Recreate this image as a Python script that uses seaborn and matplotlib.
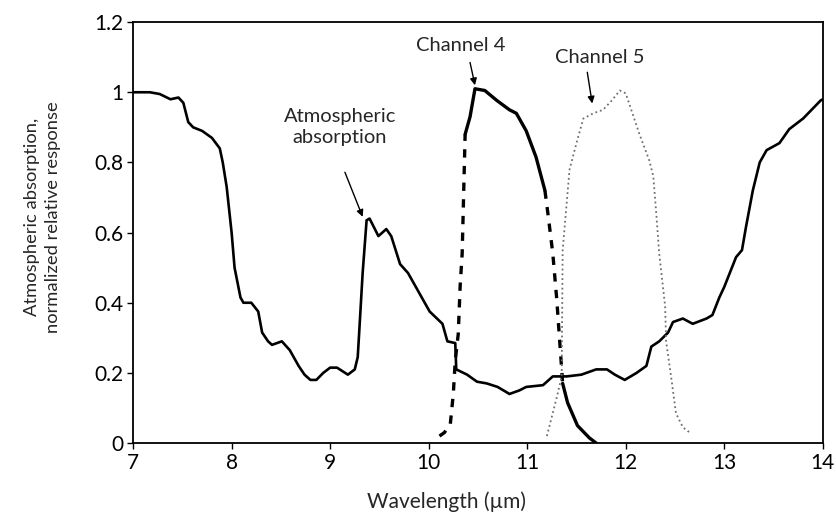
import pandas as pd
import matplotlib.pyplot as plt
import seaborn as sns

# atmospheric absorption (solid)
atm_x = [7.0, 7.17, 7.27, 7.38, 7.46, 7.51, 7.56, 7.61, 7.70, 7.80, 7.88, 7.91,
         7.95, 8.0, 8.03, 8.09, 8.12, 8.2, 8.27, 8.31, 8.37, 8.41, 8.51, 8.59,
         8.68, 8.74, 8.80, 8.86, 8.93, 9.0, 9.07, 9.18, 9.25, 9.28, 9.30, 9.33,
         9.37, 9.40, 9.49, 9.57, 9.62, 9.71, 9.79, 9.91, 10.01, 10.14, 10.19,
         10.27, 10.28, 10.39, 10.49, 10.59, 10.70, 10.82, 10.92, 10.99, 11.16,
         11.26, 11.40, 11.55, 11.60, 11.70, 11.81, 11.89, 11.99, 12.11, 12.21,
         12.26, 12.34, 12.43, 12.48, 12.58, 12.68, 12.82, 12.88, 12.95, 13.0,
         13.12, 13.18, 13.22, 13.29, 13.36, 13.43, 13.56, 13.66, 13.80, 13.98, 14.0]
atm_y = [1.0, 1.0, 0.995, 0.98, 0.985, 0.97, 0.915, 0.90, 0.89, 0.87, 0.84, 0.80,
         0.73, 0.60, 0.50, 0.415, 0.40, 0.40, 0.375, 0.315, 0.29, 0.28, 0.29, 0.265,
         0.22, 0.195, 0.18, 0.18, 0.20, 0.215, 0.215, 0.195, 0.21, 0.245, 0.34, 0.485,
         0.635, 0.64, 0.59, 0.61, 0.59, 0.51, 0.485, 0.425, 0.375, 0.34, 0.29,
         0.285, 0.21, 0.195, 0.175, 0.17, 0.16, 0.14, 0.15, 0.16, 0.165,
         0.19, 0.19, 0.195, 0.20, 0.21, 0.21, 0.195, 0.18, 0.20, 0.22,
         0.275, 0.29, 0.315, 0.345, 0.355, 0.34, 0.355, 0.365, 0.415, 0.445,
         0.53, 0.55, 0.615, 0.72, 0.80, 0.835, 0.855, 0.895, 0.925, 0.977, 0.98]

# channel 4 response
ch4_x = [10.11, 10.16, 10.22, 10.25, 10.27, 10.30, 10.32, 10.34, 10.37, 10.42,
         10.47, 10.57, 10.69, 10.82, 10.89, 10.99, 11.09, 11.18, 11.21, 11.26,
         11.30, 11.36, 11.41, 11.51, 11.63, 11.70]
ch4_y = [0.02, 0.03, 0.055, 0.14, 0.235, 0.31, 0.45, 0.54, 0.88, 0.93,
         1.01, 1.005, 0.977, 0.95, 0.94, 0.89, 0.815, 0.72, 0.655, 0.54,
         0.41, 0.17, 0.115, 0.05, 0.015, 0.0]

# channel 5 response
ch5_x = [11.20, 11.30, 11.35, 11.36, 11.43, 11.50, 11.57, 11.67, 11.77, 11.86,
         11.94, 12.0, 12.14, 12.24, 12.28, 12.31, 12.34, 12.40, 12.41, 12.47,
         12.51, 12.58, 12.65]
ch5_y = [0.02, 0.13, 0.19, 0.55, 0.78, 0.855, 0.925, 0.94, 0.95, 0.977,
         1.005, 0.997, 0.88, 0.805, 0.76, 0.655, 0.54, 0.39, 0.29, 0.17,
         0.085, 0.045, 0.03]

x_ticks = [7, 8, 9, 10, 11, 12, 13, 14]
y_ticks = [0, 0.2, 0.4, 0.6, 0.8, 1.0, 1.2]
y_tick_labels = ["0", "0.2", "0.4", "0.6", "0.8", "1", "1.2"]

sns.set_style("ticks")
plt.rcParams["font.family"] = ["Lato", "DejaVu Sans"]

atm = pd.DataFrame({"x": atm_x, "y": atm_y})
ch4 = pd.DataFrame({"x": ch4_x, "y": ch4_y})
ch5 = pd.DataFrame({"x": ch5_x, "y": ch5_y})

fig = plt.figure(figsize=(8.37, 5.14), dpi=100)
ax = fig.add_axes([0.159, 0.138, 0.824, 0.819])

sns.lineplot(data=atm, x="x", y="y", sort=False, estimator=None,
             color="black", linewidth=1.9, ax=ax)
# channel 4: dashed on steep flanks, solid elsewhere
dash = (0, (2.5, 2.5))
sns.lineplot(data=ch4.iloc[0:9], x="x", y="y", sort=False, estimator=None,
             color="black", linewidth=2.4, linestyle=dash, ax=ax)
sns.lineplot(data=ch4.iloc[8:18], x="x", y="y", sort=False, estimator=None,
             color="black", linewidth=2.4, ax=ax)
sns.lineplot(data=ch4.iloc[17:22], x="x", y="y", sort=False, estimator=None,
             color="black", linewidth=2.4, linestyle=dash, ax=ax)
sns.lineplot(data=ch4.iloc[21:], x="x", y="y", sort=False, estimator=None,
             color="black", linewidth=2.4, ax=ax)
sns.lineplot(data=ch5, x="x", y="y", sort=False, estimator=None,
             color="#6f6f6f", linewidth=1.3, linestyle=":", ax=ax)

ax.set_xlim(7, 14)
ax.set_ylim(0, 1.2)
ax.set_xticks(x_ticks)
ax.set_yticks(y_ticks)
ax.set_yticklabels(y_tick_labels)
ax.tick_params(labelsize=15, length=4, width=1, direction="out", colors="black",
               pad=3)
for s in ax.spines.values():
    s.set_linewidth(1.3)
    s.set_color("black")

ax.set_xlabel("Wavelength (µm)", fontsize=15)
ax.xaxis.set_label_coords(0.455, -0.115)
ax.set_ylabel("Atmospheric absorption,\nnormalized relative response",
              fontsize=13.2, linespacing=1.45)
ax.yaxis.set_label_coords(-0.104, 0.537)

arrow = dict(arrowstyle="-|>", color="black", lw=1.0, mutation_scale=10,
             shrinkA=0, shrinkB=0)
ax.text(9.10, 0.90, "Atmospheric\nabsorption", ha="center", va="center",
        fontsize=14.5, linespacing=1.3)
ax.annotate("", xy=(9.33, 0.645), xytext=(9.15, 0.772), arrowprops=arrow)
ax.text(10.33, 1.134, "Channel 4", ha="center", va="center", fontsize=14.5)
ax.annotate("", xy=(10.47, 1.02), xytext=(10.42, 1.085), arrowprops=arrow)
ax.text(11.74, 1.10, "Channel 5", ha="center", va="center", fontsize=14.5)
ax.annotate("", xy=(11.66, 0.968), xytext=(11.61, 1.057), arrowprops=arrow)

plt.savefig("out.png", dpi=100)
